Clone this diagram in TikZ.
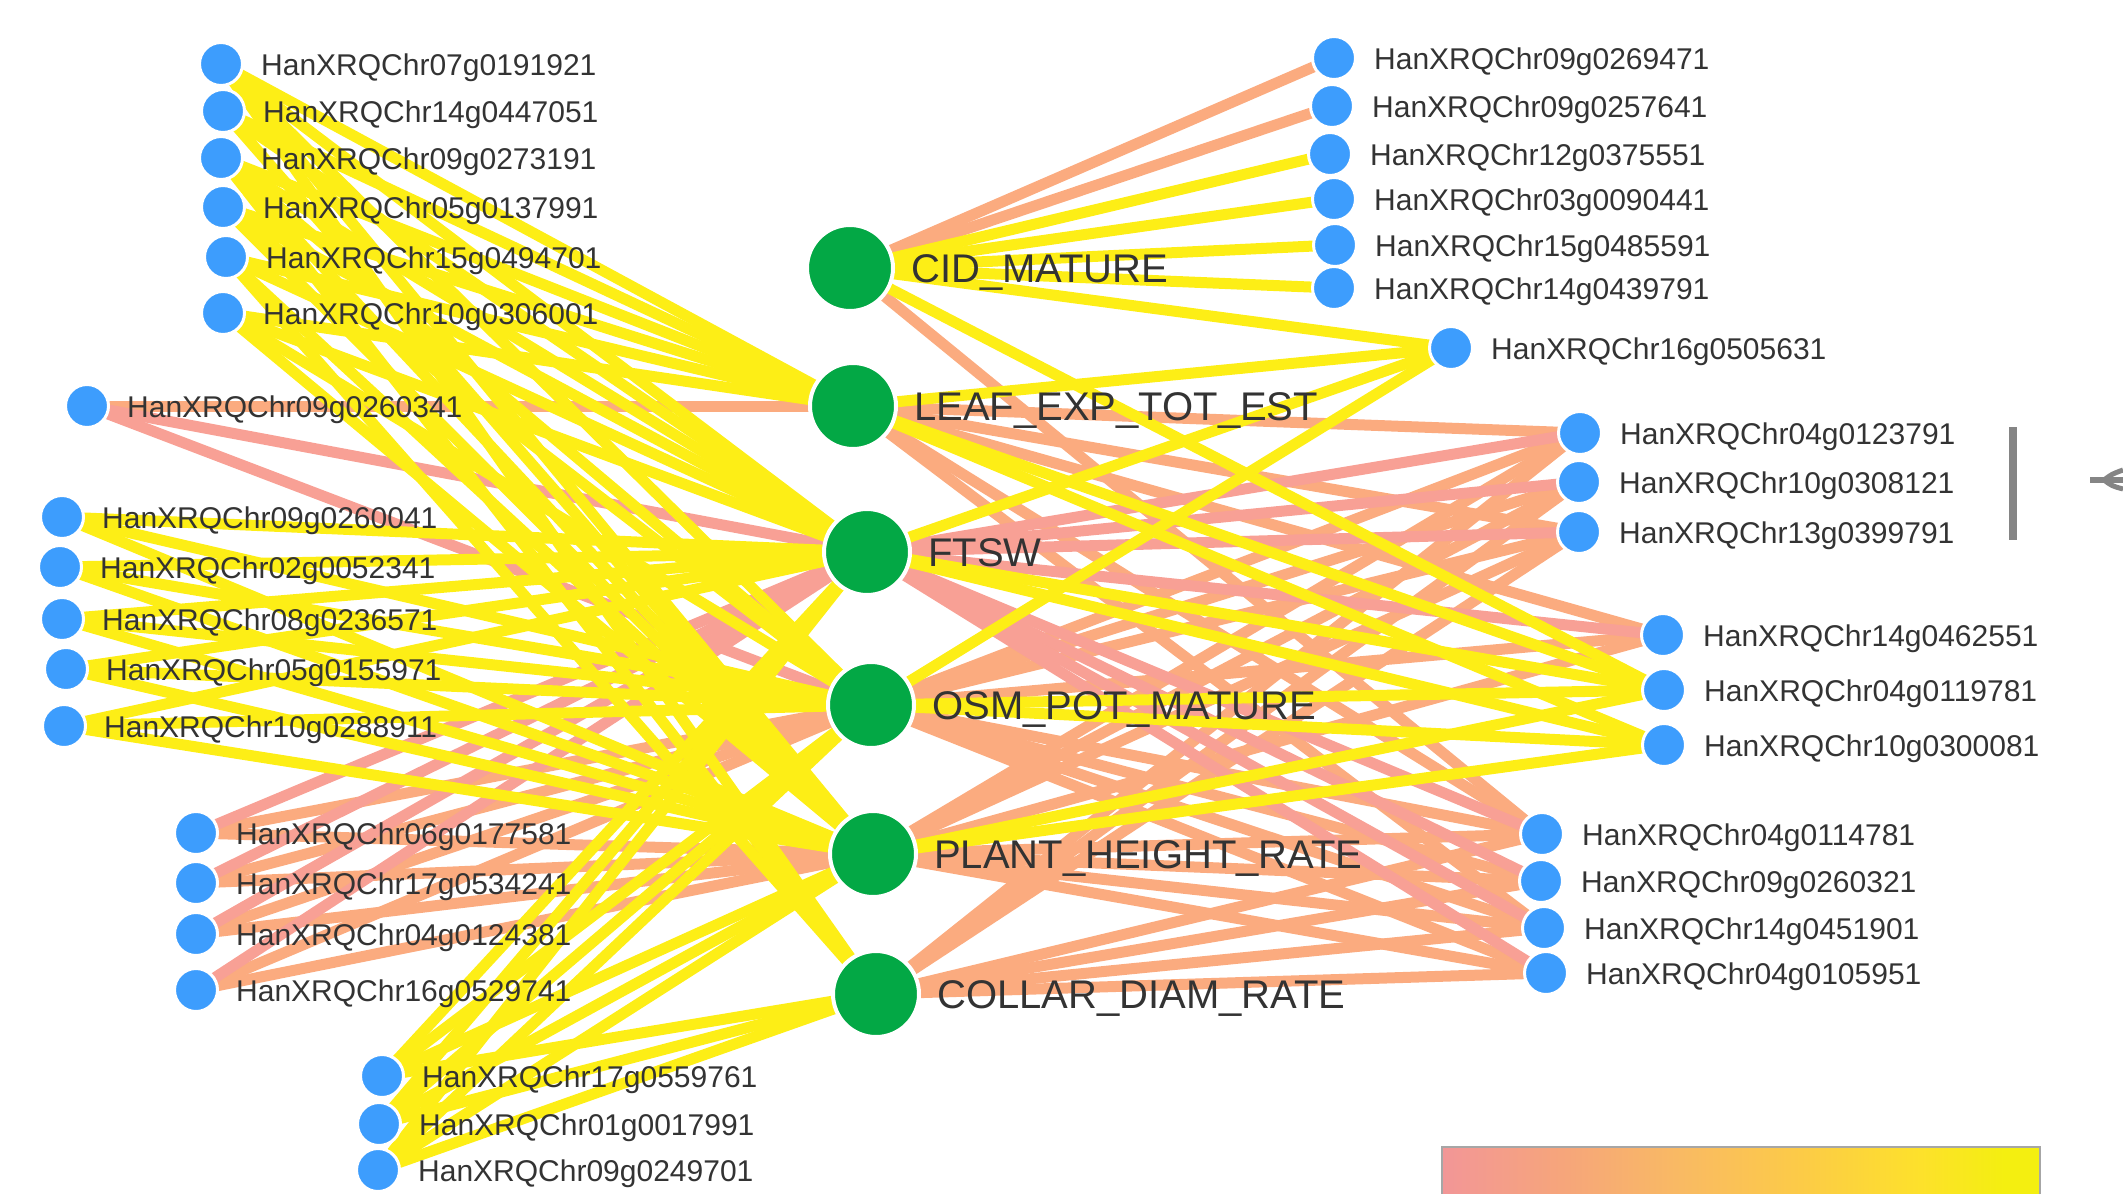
\documentclass[tikz,border=0pt]{standalone}
\usepackage{fontspec}
\setmainfont{Liberation Sans}
\usetikzlibrary{backgrounds}
\definecolor{nodeblue}{HTML}{3D9DFD}
\definecolor{nodegreen}{HTML}{03A845}
\definecolor{labgray}{HTML}{333333}
\definecolor{edgey}{HTML}{FDEE16}
\definecolor{edgeo}{HTML}{FBAB7F}
\definecolor{edges}{HTML}{F8A095}
\definecolor{bargray}{HTML}{858585}
\definecolor{cbz}{HTML}{F29697}
\definecolor{cba}{HTML}{F6A57B}
\definecolor{cbb}{HTML}{F9BA63}
\definecolor{cbc}{HTML}{FCCB47}
\definecolor{cbd}{HTML}{FDE12B}
\definecolor{cbe}{HTML}{F4EF10}
\pgfdeclarehorizontalshading{cbarshade}{100bp}{color(0bp)=(cbz); color(25bp)=(cbz); color(35bp)=(cba); color(45bp)=(cbb); color(55bp)=(cbc); color(65bp)=(cbd); color(72bp)=(cbe); color(100bp)=(cbe)}
\begin{document}
\begin{tikzpicture}[x=1pt,y=-1pt,
  gene/.style={circle,fill=nodeblue,draw=white,line width=3pt,minimum size=43pt,inner sep=0pt},
  trait/.style={circle,fill=nodegreen,draw=white,line width=4pt,minimum size=86pt,inner sep=0pt},
  glab/.style={anchor=base west,inner sep=0pt,text=labgray,font=\fontsize{30}{36}\selectfont},
  tlab/.style={anchor=base west,inner sep=0pt,text=labgray,font=\fontsize{40}{48}\selectfont},
  ey/.style={draw=edgey,line width=11pt},
  eo/.style={draw=edgeo,line width=11pt},
  es/.style={draw=edges,line width=11pt}]
\useasboundingbox (0,0) rectangle (2123,1194);
% gene nodes
\foreach \n/\x/\y/\t in {
  L1/221/64/HanXRQChr07g0191921, L2/223/111/HanXRQChr14g0447051,
  L3/221/158/HanXRQChr09g0273191, L4/223/207/HanXRQChr05g0137991,
  L5/226/257/HanXRQChr15g0494701, L6/223/313/HanXRQChr10g0306001,
  L7/87/406/HanXRQChr09g0260341,
  L8/62/517/HanXRQChr09g0260041, L9/60/567/HanXRQChr02g0052341,
  L10/62/619/HanXRQChr08g0236571, L11/66/669/HanXRQChr05g0155971,
  L12/64/726/HanXRQChr10g0288911,
  L13/196/833/HanXRQChr06g0177581, L14/196/883/HanXRQChr17g0534241,
  L15/196/934/HanXRQChr04g0124381, L16/196/990/HanXRQChr16g0529741,
  L17/382/1076/HanXRQChr17g0559761, L18/379/1124/HanXRQChr01g0017991,
  L19/378/1170/HanXRQChr09g0249701,
  R1/1334/58/HanXRQChr09g0269471, R2/1332/106/HanXRQChr09g0257641,
  R3/1330/154/HanXRQChr12g0375551, R4/1334/199/HanXRQChr03g0090441,
  R5/1335/245/HanXRQChr15g0485591, R6/1334/288/HanXRQChr14g0439791,
  R7/1451/348/HanXRQChr16g0505631,
  R8/1580/433/HanXRQChr04g0123791, R9/1579/482/HanXRQChr10g0308121,
  R10/1579/532/HanXRQChr13g0399791,
  R11/1663/635/HanXRQChr14g0462551, R12/1664/690/HanXRQChr04g0119781,
  R13/1664/745/HanXRQChr10g0300081,
  R14/1542/834/HanXRQChr04g0114781, R15/1541/881/HanXRQChr09g0260321,
  R16/1544/928/HanXRQChr14g0451901, R17/1546/973/HanXRQChr04g0105951}
{
  \node[gene] (\n) at (\x,\y) {};
  \node[glab] (\n-t) at (\x+40,\y+11) {\t};
}
% trait nodes
\foreach \n/\x/\y/\t in {
  T1/850/268/CID\_MATURE, T2/853/406/LEAF\_EXP\_TOT\_EST,
  T3/867/552/FTSW, T4/871/705/OSM\_POT\_MATURE,
  T5/873/854/PLANT\_HEIGHT\_RATE, T6/876/994/COLLAR\_DIAM\_RATE}
{
  \node[trait] (\n) at (\x,\y) {};
  \node[tlab] (\n-t) at (\x+61,\y+14) {\t};
}
% edges
\begin{scope}[on background layer]
  % orange edges
  \foreach \a/\b in {T1/R1,T1/R2,T1/R14,
    T2/L7,T2/R8,T2/R10,T2/R11,T2/R14,T2/R16,
    T4/L13,T4/L14,T4/L15,T4/L16,T4/R8,T4/R9,T4/R10,T4/R11,T4/R14,T4/R15,T4/R16,T4/R17,
    T5/L13,T5/L14,T5/L15,T5/L16,T5/R8,T5/R9,T5/R10,T5/R11,T5/R14,T5/R15,T5/R16,T5/R17,
    T6/R8,T6/R9,T6/R10,T6/R14,T6/R15,T6/R16,T6/R17}
    {\draw[eo] (\a.center) -- (\b.center);}
  % salmon edges
  \foreach \a/\b in {T3/L7,T4/L7,T3/L13,T3/L14,T3/L15,T3/L16,
    T3/R8,T3/R9,T3/R10,T3/R11,T3/R14,T3/R15,T3/R16,T3/R17}
    {\draw[es] (\a.center) -- (\b.center);}
  % yellow edges
  \foreach \a/\b in {T1/R3,T1/R4,T1/R5,T1/R6,T1/R7,T1/R12,
    T2/L1,T2/L2,T2/L3,T2/L4,T2/L5,T2/L6,T2/R7,T2/R12,T2/R13,
    T3/L1,T3/L2,T3/L3,T3/L4,T3/L5,T3/L6,T3/L8,T3/L9,T3/L10,T3/L11,T3/L12,
    T3/L17,T3/L18,T3/L19,T3/R7,T3/R12,T3/R13,
    T4/L1,T4/L3,T4/L4,T4/L6,T4/L8,T4/L9,T4/L10,T4/L11,T4/L12,
    T4/L17,T4/L18,T4/L19,T4/R7,T4/R12,T4/R13,
    T5/L1,T5/L2,T5/L3,T5/L4,T5/L5,T5/L6,T5/L8,T5/L9,T5/L10,T5/L11,T5/L12,
    T5/L17,T5/L18,T5/L19,T5/R12,T5/R13,
    T6/L1,T6/L3,T6/L5,T6/L17,T6/L18,T6/L19}
    {\draw[ey] (\a.center) -- (\b.center);}
\end{scope}
% separator bar and cut symbol at right edge
\fill[bargray] (2009,427) rectangle (2017,540);
\draw[bargray,line width=6pt] (2090,480) -- (2123,480);
\draw[bargray,line width=5pt] (2104,480) .. controls (2112,474) .. (2123,470);
\draw[bargray,line width=5pt] (2104,480) .. controls (2112,486) .. (2123,489);
% colour bar
\path[shading=cbarshade,draw=gray!70,line width=2pt] (1442,1147) rectangle (2040,1215);
\end{tikzpicture}
\end{document}
